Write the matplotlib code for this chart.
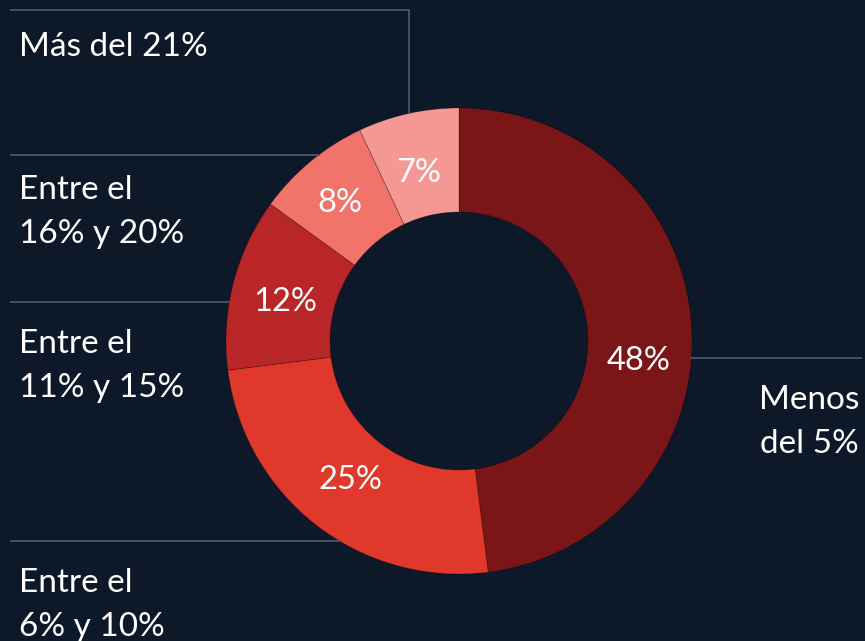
import numpy as np
import matplotlib.pyplot as plt

# data
shares = [48, 25, 12, 8, 7]
pct_labels = ["48%", "25%", "12%", "8%", "7%"]
categories = ["Menos\ndel 5%", "Entre el\n6% y 10%", "Entre el\n11% y 15%",
              "Entre el\n16% y 20%", "Más del 21%"]
colors = ["#7b1618", "#e0382b", "#b82628", "#f2736a", "#f59792"]

bg = "#0d1828"
line_col = "#4b5667"
W, H = 865, 641
cx, cy, R, ring = 459, H - 341, 233, 104

fig = plt.figure(figsize=(W / 100, H / 100), dpi=100, facecolor=bg)
ax = fig.add_axes([0, 0, 1, 1])
ax.set_facecolor(bg)

wedges, _ = ax.pie(shares, colors=colors, startangle=90, counterclock=False,
                   center=(cx, cy), radius=R, frame=True,
                   wedgeprops=dict(width=ring, edgecolor="#00000040", linewidth=0.6))
ax.set_xlim(0, W)
ax.set_ylim(0, H)
ax.set_aspect("equal")
ax.axis("off")

# percent labels (positions in px from top-left)
pct_pos = [(639, 361), (350, 480), (285, 302), (340, 203), (419, 173)]
for t, (px, py) in zip(pct_labels, pct_pos):
    ax.text(px, H - py, t, color="white", fontsize=23.5, family="Lato",
            ha="center", va="center")


def edge_x(y, side):
    dy = y - cy
    return cx + side * np.sqrt(R ** 2 - dy ** 2)


def edge_y(x):
    dx = x - cx
    return cy + np.sqrt(R ** 2 - dx ** 2)


lw = 1.3
# Más del 21%
ax.plot([11, 409, 409], [H - 10, H - 10, edge_y(409)], color=line_col, lw=lw)
# other category rules
for py in [155, 302, 541]:
    y = H - py
    ax.plot([11, edge_x(y, -1)], [y, y], color=line_col, lw=lw)
y = H - 358
ax.plot([edge_x(y, 1), 861], [y, y], color=line_col, lw=lw)

txt = dict(color="white", fontsize=24, family="Lato",
           linespacing=1.6, va="center")
ax.text(19, H - 47, categories[4], ha="left", **txt)
ax.text(19, H - 212, categories[3], ha="left", **txt)
ax.text(19, H - 366, categories[2], ha="left", **txt)
ax.text(19, H - 605, categories[1], ha="left", **txt)
ax.text(859, H - 422, categories[0], ha="right", multialignment="right", **txt)

fig.savefig("out.png", dpi=100, facecolor=bg)
